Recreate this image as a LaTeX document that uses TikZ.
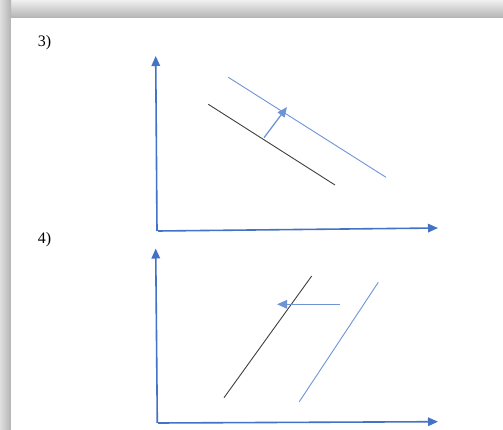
\documentclass[tikz,border=0pt]{standalone}
\usepackage{fontspec}
\setmainfont{Liberation Serif}
\usetikzlibrary{arrows.meta}
\definecolor{axisblue}{HTML}{4472C4}
\definecolor{lineblue}{HTML}{6F94D6}
\definecolor{darkline}{HTML}{404040}
\begin{document}
\begin{tikzpicture}[x=1pt,y=-1pt,
  axis/.style={draw=axisblue,line width=1.6pt,-{Triangle[length=10pt,width=8.5pt]}},
  shift arrow/.style={draw=lineblue,line width=1.3pt,-{Triangle[length=10pt,width=8.5pt]}},
  oldcurve/.style={draw=darkline,line width=0.9pt},
  newcurve/.style={draw=lineblue,line width=0.9pt},
  lbl/.style={font=\fontsize{16}{18}\selectfont,inner sep=0pt}]
\useasboundingbox (0,0) rectangle (503,430);
\fill[white] (0,0) rectangle (503,430);
% page shadow
\shade[top color=gray!12,bottom color=gray!60] (0,0) rectangle (503,18);
\shade[left color=gray!25,right color=gray!60] (0,0) rectangle (11,430);
\fill[white] (11,18) rectangle (503,430);
% labels
\node[lbl] (l3) at (44.5,42.5) {3)};
\node[lbl] (l4) at (44.5,240) {4)};
% panel 3
\coordinate (o3) at (157,231);
\coordinate (y3) at (155.7,56);
\coordinate (x3) at (438,228);
\draw[axis] (o3) -- (y3);
\draw[axis] (158,231) -- (x3);
\coordinate (b3s) at (208.3,104.3);
\coordinate (b3e) at (335,185);
\coordinate (c3s) at (228.3,77.3);
\coordinate (c3e) at (386,177.3);
\draw[oldcurve] (b3s) -- (b3e);
\draw[newcurve] (c3s) -- (c3e);
\coordinate (a3s) at (264,137.7);
\coordinate (a3e) at (287,107);
\draw[shift arrow] (a3s) -- (a3e);
% panel 4
\coordinate (o4) at (157.3,423);
\coordinate (y4) at (155.7,248.5);
\coordinate (x4) at (438,421.7);
\draw[axis] (o4) -- (y4);
\draw[axis] (158,423) -- (x4);
\coordinate (b4s) at (224,397.7);
\coordinate (b4e) at (311.7,276);
\coordinate (c4s) at (299.3,401.7);
\coordinate (c4e) at (378.3,282.3);
\draw[oldcurve] (b4s) -- (b4e);
\draw[newcurve] (c4s) -- (c4e);
\coordinate (a4s) at (340,304.3);
\coordinate (a4e) at (277,304.3);
\draw[shift arrow] (a4s) -- (a4e);
\end{tikzpicture}
\end{document}
